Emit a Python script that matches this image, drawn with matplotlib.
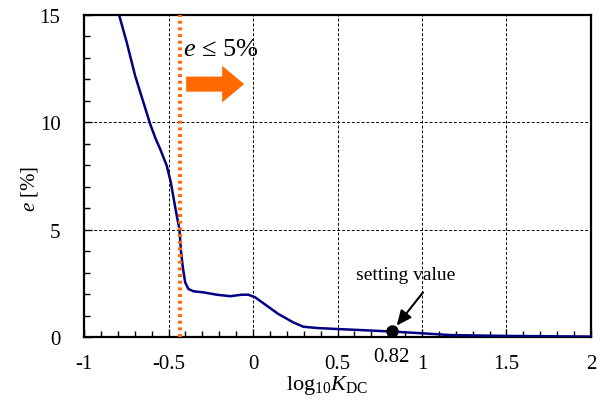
import matplotlib
matplotlib.use('Agg')
import numpy as np
import matplotlib.pyplot as plt
from matplotlib.ticker import MultipleLocator
from matplotlib.patches import FancyArrow

plt.rcParams['font.family'] = ['Liberation Serif', 'DejaVu Serif']
plt.rcParams['mathtext.fontset'] = 'custom'
plt.rcParams['mathtext.rm'] = 'Liberation Serif'
plt.rcParams['mathtext.it'] = 'Liberation Serif:italic'

# curve
log_k = [-0.793, -0.748, -0.698, -0.649, -0.609, -0.576, -0.550, -0.511, -0.487,
         -0.466, -0.448, -0.436, -0.426, -0.417, -0.402, -0.383, -0.353, -0.294,
         -0.215, -0.136, -0.067, -0.028, 0.012, 0.081, 0.150, 0.238, 0.297,
         0.376, 0.505, 0.672, 0.830, 1.008, 1.166, 1.5, 2.0]
err = [15.0, 13.73, 12.17, 10.93, 9.92, 9.22, 8.76, 7.98, 7.21,
       6.27, 5.50, 5.03, 3.94, 3.32, 2.55, 2.24, 2.13, 2.08,
       1.97, 1.90, 1.97, 1.97, 1.85, 1.46, 1.07, 0.68, 0.48,
       0.42, 0.37, 0.31, 0.25, 0.17, 0.09, 0.05, 0.02]

limit_x = -0.43
setting_x = 0.82
setting_y = 0.27
xticks = [-1, -0.5, 0, 0.5, 1, 1.5, 2]
xtick_labels = ['-1', '-0.5', '0', '0.5', '1', '1.5', '2']

fig = plt.figure(figsize=(6.14, 4.1), dpi=100)
ax = fig.add_axes([0.137, 0.1756, 0.8255, 0.7854])

ax.plot(log_k, err, color='#000080', lw=1.8, zorder=3, solid_joinstyle='round')
ax.axvline(limit_x, color='#FF6A13', lw=3, ls=(0, (0.7, 0.9)), zorder=4)
ax.plot([setting_x], [setting_y], 'o', color='black', ms=8, zorder=5)

ax.set_xlim(-1, 2)
ax.set_ylim(0, 15)
ax.set_xticks(xticks)
ax.set_xticklabels(xtick_labels)
ax.xaxis.set_minor_locator(MultipleLocator(0.1))
ax.yaxis.set_major_locator(MultipleLocator(5))
ax.yaxis.set_minor_locator(MultipleLocator(1))
ax.tick_params(which='both', direction='in', labelsize=15, top=False, right=False, width=1)
ax.tick_params(which='major', length=6)
ax.tick_params(axis='x', which='major', pad=12)
ax.tick_params(axis='y', which='major', pad=17)
ax.tick_params(which='minor', length=4)
for s in ax.spines.values():
    s.set_linewidth(1.6)

for gx in [-0.5, 0, 0.5, 1, 1.5]:
    ax.axvline(gx, color='black', lw=0.7, ls=(0, (3, 2)), zorder=1)
for gy in [5, 10]:
    ax.axhline(gy, color='black', lw=0.7, ls=(0, (3, 2)), zorder=1)

ax.set_xlabel(r'$\mathrm{log}_{10}K_{\mathrm{DC}}$', fontsize=16)
ax.xaxis.set_label_coords(0.479, -0.112)
ax.set_ylabel(r'$e$ [%]', fontsize=15)
ax.yaxis.set_label_coords(-0.088, 0.463)

ax.text(-0.415, 13.4, r'$e$ ≤ 5%', fontsize=19, va='center', ha='left')
ax.add_patch(FancyArrow(-0.396, 11.78, 0.343, 0, width=0.70, head_width=1.71,
                        head_length=0.13, length_includes_head=True,
                        color='#FF6A00', lw=0, zorder=4))

ax.text(0.9, 2.93, 'setting value', fontsize=14, ha='center', va='center')
ax.annotate('', xy=(0.85, 0.53), xytext=(1.006, 2.08),
            arrowprops=dict(arrowstyle='-|>,head_length=0.9,head_width=0.4',
                            color='black', lw=1.5, shrinkA=0, shrinkB=0))
ax.text(setting_x, -0.92, '0.82', fontsize=15, ha='center', va='center')

fig.savefig('out.png', dpi=100)
